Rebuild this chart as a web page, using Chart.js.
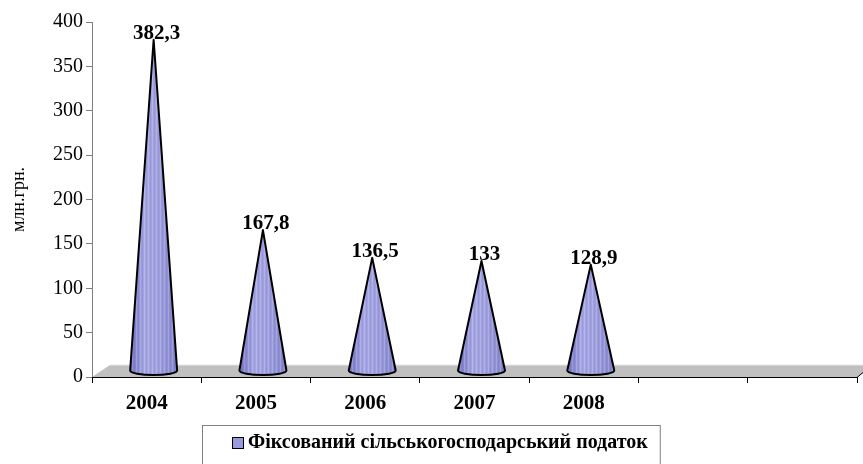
<!DOCTYPE html>
<html><head><meta charset="utf-8">
<script src="https://cdn.jsdelivr.net/npm/chart.js@4"></script>
<style>html,body{margin:0;padding:0;background:#fff}#wrap{width:863px;height:464px;position:relative}</style>
</head><body><div id="wrap"><canvas id="c" width="863" height="464"></canvas></div>
<script>
const categories = ['2004', '2005', '2006', '2007', '2008', '', ''];
const values = [382.3, 167.8, 136.5, 133, 128.9, null, null];
const valueLabels = ['382,3', '167,8', '136,5', '133', '128,9'];
const seriesName = 'Фіксований сільськогосподарський податок';
const yTitle = 'млн.грн.';

const SERIF = '"Liberation Serif", "Times New Roman", serif';

const conePlugin = {
  id: 'cones',
  beforeDatasetsDraw(chart) {
    const ctx = chart.ctx, ca = chart.chartArea;
    const yb = ca.bottom, xl = ca.left, xr = ca.right;
    ctx.save();
    ctx.beginPath();
    ctx.moveTo(xl, yb); ctx.lineTo(xr, yb); ctx.lineTo(xr + 18, yb - 12); ctx.lineTo(xl + 18, yb - 12); ctx.closePath();
    ctx.fillStyle = '#c0c0c0'; ctx.fill();
    ctx.beginPath(); ctx.moveTo(xl + 18, yb - 12); ctx.lineTo(xr + 18, yb - 12);
    ctx.strokeStyle = '#e6e6e6'; ctx.lineWidth = 1; ctx.stroke();
    ctx.beginPath(); ctx.moveTo(xl, yb + 0.5); ctx.lineTo(xr, yb + 0.5); ctx.lineTo(xr + 6, yb - 4.5);
    ctx.strokeStyle = '#000'; ctx.lineWidth = 1; ctx.stroke();
    ctx.restore();
  },
  afterDatasetsDraw(chart) {
    const ctx = chart.ctx;
    const meta = chart.getDatasetMeta(0);
    const pc = document.createElement('canvas'); pc.width = 4; pc.height = 4;
    const pctx = pc.getContext('2d');
    pctx.fillStyle = 'rgba(255,255,255,0.18)'; pctx.fillRect(0, 0, 1, 4);
    pctx.fillStyle = 'rgba(60,60,140,0.10)'; pctx.fillRect(2, 0, 1, 4);
    const pattern = ctx.createPattern(pc, 'repeat');
    meta.data.forEach((el, i) => {
      if (values[i] == null) return;
      const p = el.getProps(['x', 'y', 'base', 'width'], true);
      const cx = p.x + 7, tipY = p.y + 2, baseY = p.base - 6, hw = p.width / 2;
      const path = () => {
        ctx.beginPath();
        ctx.moveTo(cx - hw, baseY);
        ctx.lineTo(cx, tipY);
        ctx.lineTo(cx + hw, baseY);
        ctx.ellipse(cx, baseY, hw, 4.5, 0, 0, Math.PI, false);
        ctx.closePath();
      };
      ctx.save();
      const g = ctx.createLinearGradient(cx - hw, 0, cx + hw, 0);
      g.addColorStop(0, '#7272c2');
      g.addColorStop(0.3, '#a6a6e4');
      g.addColorStop(0.6, '#a0a0e0');
      g.addColorStop(1, '#8282cc');
      path(); ctx.fillStyle = g; ctx.fill();
      path(); ctx.fillStyle = pattern; ctx.fill();
      path(); ctx.lineWidth = 2; ctx.lineJoin = 'round'; ctx.strokeStyle = '#000'; ctx.stroke();
      ctx.restore();
      ctx.save();
      ctx.font = 'bold 21px ' + SERIF;
      ctx.fillStyle = '#000'; ctx.textAlign = 'center'; ctx.textBaseline = 'middle';
      ctx.fillText(valueLabels[i], cx + 3, tipY - 6);
      ctx.restore();
    });
  },
  afterDraw(chart) {
    const ctx = chart.ctx;
    ctx.save();
    ctx.font = 'bold 20px ' + SERIF;
    const tw = ctx.measureText(seriesName).width;
    const bx = 202, by = 425, bw = (248 - 202) + tw + 12, bh = 50;
    ctx.strokeStyle = '#808080'; ctx.lineWidth = 1;
    ctx.strokeRect(bx + 0.5, by + 0.5, bw, bh);
    ctx.fillStyle = '#9999dd'; ctx.fillRect(232, 437, 11, 11);
    ctx.strokeStyle = '#000'; ctx.strokeRect(232.5, 437.5, 11, 11);
    ctx.fillStyle = '#000'; ctx.textAlign = 'left'; ctx.textBaseline = 'middle';
    ctx.fillText(seriesName, 248, 443);
    ctx.restore();
  }
};

new Chart(document.getElementById('c'), {
  type: 'bar',
  data: {
    labels: categories,
    datasets: [{
      label: seriesName,
      data: values,
      backgroundColor: 'rgba(0,0,0,0)',
      borderWidth: 0,
      barPercentage: 0.43,
      categoryPercentage: 1
    }]
  },
  options: {
    responsive: false,
    devicePixelRatio: 1,
    animation: false,
    layout: { padding: { left: 8, top: 22, right: 6, bottom: 0 } },
    plugins: { legend: { display: false }, tooltip: { enabled: false } },
    scales: {
      x: {
        grid: { offset: true, drawOnChartArea: false, tickLength: 6, color: '#000' },
        border: { color: '#000', width: 1 },
        ticks: { color: '#000', font: { family: SERIF, size: 21, weight: 'bold' }, padding: 8, maxRotation: 0 },
        afterFit(s) { s.height = 87; }
      },
      y: {
        min: 0, max: 400,
        ticks: { stepSize: 50, color: '#000', font: { family: SERIF, size: 20 }, padding: 3 },
        grid: { drawOnChartArea: false, tickLength: 6, color: '#808080' },
        border: { color: '#808080', width: 1 },
        title: { display: true, text: yTitle, color: '#000', font: { family: SERIF, size: 18 }, padding: 0 },
        afterFit(s) { s.width = 84; }
      }
    }
  },
  plugins: [conePlugin]
});
</script>
</body></html>
